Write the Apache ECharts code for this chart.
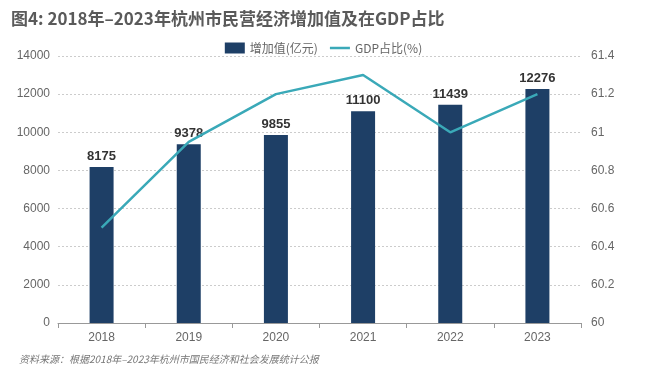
<!DOCTYPE html>
<html><head><meta charset="utf-8">
<script src="https://cdn.jsdelivr.net/npm/echarts@6/dist/echarts.min.js"></script>
<style>html,body{margin:0;padding:0;background:#fff}#c{width:647px;height:382px}</style>
</head><body><div id="c"></div>
<script>
const categories = ['2018','2019','2020','2021','2022','2023'];
const addedValue = [8175, 9378, 9855, 11100, 11439, 12276];
const gdpShare = [60.5, 60.95, 61.2, 61.3, 61.0, 61.2];
const leftTicks = [0, 2000, 4000, 6000, 8000, 10000, 12000, 14000];
const rightTicks = [60, 60.2, 60.4, 60.6, 60.8, 61, 61.2, 61.4];
const titleText = '图4: 2018年–2023年杭州市民营经济增加值及在GDP占比';
const sourceText = '资料来源：根据2018年–2023年杭州市国民经济和社会发展统计公报';
const seriesNames = ['增加值(亿元)', 'GDP占比(%)'];

const chart = echarts.init(document.getElementById('c'));
const font = '"Noto Sans CJK SC", "Noto Sans", sans-serif';
const numFont = '"Liberation Sans", Arial, sans-serif';
chart.setOption({
  animation: false,
  textStyle: { fontFamily: font },
  title: [{
    text: titleText, left: 6, top: 5,
    textStyle: { fontSize: 17, fontWeight: 'bold', color: '#5a5a5a', fontFamily: font }
  }, {
    text: sourceText, left: 14, top: 349,
    textStyle: { fontSize: 10, fontWeight: 'normal', fontStyle: 'italic', color: '#777', fontFamily: font }
  }],
  legend: {
    top: 37, left: 'center', itemGap: 12, itemWidth: 20, itemHeight: 11,
    textStyle: { fontSize: 12, color: '#666' },
    data: [
      { name: seriesNames[0], icon: 'rect' },
      { name: seriesNames[1], icon: 'path://M0,0H20V2.5H0Z' }
    ]
  },
  grid: { left: 58, right: 66, top: 56, bottom: 59 },
  xAxis: {
    type: 'category', data: categories,
    axisLine: { lineStyle: { color: '#999' } },
    axisTick: { show: true, alignWithLabel: false, lineStyle: { color: '#999' } },
    axisLabel: { color: '#666', fontSize: 12, margin: 9, fontFamily: numFont }
  },
  yAxis: [{
    type: 'value', min: 0, max: 14000, interval: 2000,
    axisLine: { show: false }, axisTick: { show: false },
    axisLabel: { color: '#666', fontSize: 12, margin: 8, fontFamily: numFont,
      formatter: v => String(v) },
    splitLine: { lineStyle: { color: '#ccc', type: [2, 2] } }
  }, {
    type: 'value', min: 60, max: 61.4, interval: 0.2,
    axisLine: { show: false }, axisTick: { show: false },
    axisLabel: { color: '#666', fontSize: 12, margin: 10, fontFamily: numFont,
      formatter: v => String(+v.toFixed(1)) },
    splitLine: { show: false }
  }],
  series: [{
    name: seriesNames[0], type: 'bar', data: addedValue, barWidth: 24,
    itemStyle: { color: '#1e3f66' },
    label: { show: true, position: 'top', color: '#333', fontSize: 13, fontWeight: 'bold', distance: 4, fontFamily: numFont }
  }, {
    name: seriesNames[1], type: 'line', yAxisIndex: 1, data: gdpShare,
    symbol: 'none', lineStyle: { color: '#3aa9b8', width: 2.5 },
    itemStyle: { color: '#3aa9b8' }
  }]
});
</script></body></html>
